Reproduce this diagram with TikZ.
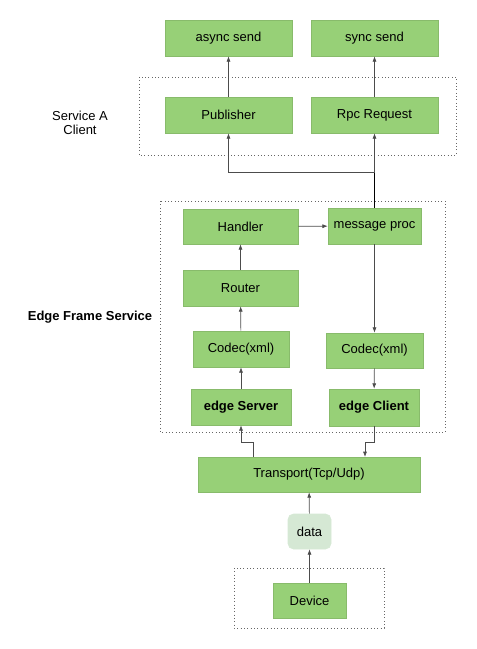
\documentclass[tikz,border=0pt]{standalone}
\usepackage{fontspec}
\setmainfont{Liberation Sans}
\usepackage{tikz}
\usetikzlibrary{arrows.meta}
\usetikzlibrary{positioning}
\usepackage{xcolor}
\definecolor{boxgreen}{HTML}{97D077}
\definecolor{datagreen}{HTML}{D5E8D4}
\tikzset{
gbox/.style={fill=boxgreen,
  draw=boxgreen!90!black,
    line width=0.4pt,
    inner sep=0pt,
    font=\fontsize{9.75}{11.5}\selectfont,
    align=center},
frame/.style={draw=black!60,
  dotted, line width=0.5pt},
}
\tikzset{invisible/.style={minimum width=0mm,inner sep=0mm,outer sep=0mm}}
\tikzset{arr/.style={draw=black!70, line width=0.5pt, -{Latex[length=4pt,width=3pt]}}}

\begin{document}
\begin{tikzpicture}[x=0.75pt,y=-0.75pt]
    \useasboundingbox (0,0) rectangle (476,649);
    \draw [frame] (139,77) rectangle (456,155);
    \draw [frame] (160,201) rectangle (445,432);
    \draw [frame] (234,568) rectangle (384,628);

    \node [gbox, minimum width=95.25pt, minimum height=27pt] (async) at (228.5,38) {async send};
    \node [gbox, minimum width=95.25pt, minimum height=27pt] (sync) at (374.5,38) {sync send};
    \node [gbox, minimum width=95.25pt, minimum height=27pt] (pub) at (228.5,115) {Publisher};
    \node [gbox, minimum width=95.25pt, minimum height=27pt] (rpc) at (374.5,115) {Rpc Request};

    \node [gbox, minimum width=86.25pt, minimum height=26.25pt] (handler) at (240.5,226.5) {Handler};
    \node [gbox, minimum width=69.75pt, minimum height=27pt] (msg) at (374.5,226) {message proc};
    \node [gbox, minimum width=86.25pt, minimum height=27pt] (router) at (240.5,288) {Router};
    \node [gbox, minimum width=72pt, minimum height=27pt] (codecl) at (241,349) {Codec(xml)};
    \node [gbox, minimum width=72.75pt, minimum height=26.25pt] (codecr) at (374.5,350.5) {Codec(xml)};
    \node [gbox, minimum width=75pt, minimum height=27pt, font=\fontsize{9.75}{11.5}\selectfont\bfseries] (server) at (241,407) {edge Server};
    \node [gbox, minimum width=67.5pt, minimum height=27.75pt, font=\fontsize{9.75}{11.5}\selectfont\bfseries] (client) at (374,407.5) {edge Client};
    \node [gbox, minimum width=166.5pt, minimum height=26.25pt] (transport) at (309,474.5) {Transport(Tcp/Udp)};
    \node [gbox, fill=datagreen, draw=datagreen, rounded corners=4pt, minimum width=32.25pt, minimum height=26.25pt] (data) at (309.5,531.5) {data};
    \node [gbox, minimum width=54.75pt, minimum height=26.25pt] (device) at (309.5,600.5) {Device};

    \node [font=\fontsize{9.75}{11}\selectfont, align=center] (svclabel) at (80,123) {Service A\\Client};
    \node [font=\fontsize{9.75}{11.5}\selectfont\bfseries] (edgelabel) at (90,317) {Edge Frame Service};

    \node[invisible] (mp1) at (374.5,172) {};
    \node[invisible] (mp2) at (228.5,172) {};
    \node[invisible] (ts1) at (253,457) {};
    \node[invisible] (ts2) at (253,442) {};
    \node[invisible] (ts3) at (241,442) {};
    \node[invisible] (ct1) at (374,442) {};
    \node[invisible] (ct2) at (365,442) {};
    \node[invisible] (ct3) at (365,457) {};

  \draw [arr] (pub) -- (async);
  \draw [arr] (rpc) -- (sync);
  \draw [arr] (msg) -- (rpc);
  \draw (msg.north) -- (mp1.center);
  \draw [arr] (mp1.center) -- (mp2.center) -- (pub);

  \draw [arr] (handler) -- (msg);
  \draw [arr] (router) -- (handler);
  \draw [arr] (codecl) -- (router);
  \draw [arr] (server) -- (codecl);
  \draw [arr] (msg) -- (codecr);
  \draw [arr] (codecr) -- (client);

  \draw [arr] (ts1.center) -- (ts2.center) -- (ts3.center) -- (server);
  \draw [arr] (client.south) -- (ct1.center) -- (ct2.center) -- (ct3.center);

  \draw [arr] (data) -- (transport);
  \draw [arr] (device) -- (data);
  \end{tikzpicture}
\end{document}
